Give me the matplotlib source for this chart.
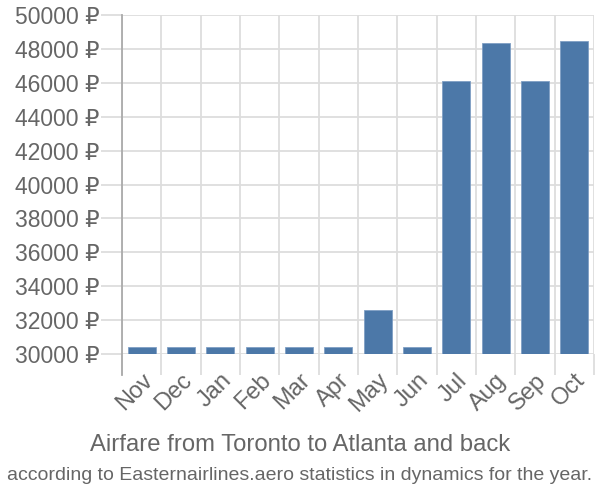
import matplotlib
matplotlib.use("Agg")
import matplotlib.pyplot as plt
import numpy as np

months = ["Nov", "Dec", "Jan", "Feb", "Mar", "Apr", "May", "Jun", "Jul", "Aug", "Sep", "Oct"]
prices = [30410, 30410, 30410, 30410, 30410, 30410, 32620, 30410, 46130, 48350, 46130, 48450]
yticks = list(range(30000, 50001, 2000))

plt.rcParams['font.family'] = ['Liberation Sans', 'DejaVu Sans']
text_color = '#666666'
grid_color = '#dddddd'

fig = plt.figure(figsize=(6, 5), dpi=100)
ax = fig.add_axes([122 / 600, 1 - 354 / 500, 472 / 600, 339 / 500])

x = np.arange(len(months))
ax.bar(x, prices, width=0.72, bottom=0, color='#4c78a8', edgecolor='#7f9fc4',
       linewidth=0.6, zorder=3)

ax.set_xlim(-0.5, len(months) - 0.5)
ax.set_ylim(30000, 50000)
ax.set_yticks(yticks)
ax.set_yticklabels([f"{v} ₽" for v in yticks])
ax.set_xticks(x)
ax.set_xticklabels(months, rotation=45, ha='right', rotation_mode='anchor')
ax.set_xticks(np.arange(-0.5, len(months)), minor=True)

ax.grid(axis='y', color=grid_color, linewidth=1.3, zorder=0)
ax.grid(axis='x', which='minor', color=grid_color, linewidth=1.3, zorder=0)
ax.tick_params(axis='y', length=15, width=1.3, color=grid_color, labelsize=16.5,
               labelcolor=text_color, pad=1)
ax.tick_params(axis='x', which='major', length=0, labelsize=17, labelcolor=text_color, pad=11)
ax.tick_params(axis='x', which='minor', length=15, width=1.3, color=grid_color)

for s in ['top', 'right', 'bottom']:
    ax.spines[s].set_visible(False)
ax.spines['left'].set_color('#aaaaaa')
ax.spines['left'].set_linewidth(1.3)
ax.spines['left'].set_bounds(28760, 50000)

fig.text(0.5, 1 - 445 / 500, "Airfare from Toronto to Atlanta and back",
         ha='center', va='center', fontsize=17.2, color=text_color)
fig.text(0.5, 1 - 475 / 500,
         "according to Easternairlines.aero statistics in dynamics for the year.",
         ha='center', va='center', fontsize=14, color=text_color)

fig.savefig("out.png", dpi=100)
